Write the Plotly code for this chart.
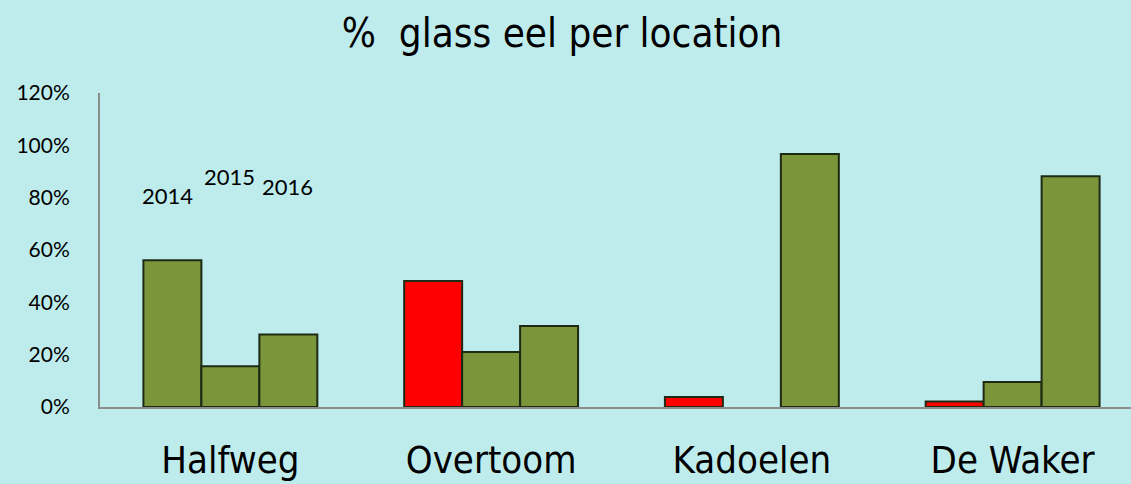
import plotly.graph_objects as go

locations = ["Halfweg", "Overtoom", "Kadoelen", "De Waker"]
pct_2014 = [56.1, 48.2, 3.8, 2.1]
pct_2015 = [15.6, 21.0, None, 9.6]
pct_2016 = [27.7, 31.0, 96.7, 88.2]
year_labels = ["2014", "2015", "2016"]
year_label_x = [-0.242, -0.004, 0.218]
year_label_y = [80.8, 88.1, 84.2]
y_ticks = [0, 20, 40, 60, 80, 100, 120]
y_ticktext = [f"{v}%" for v in y_ticks]

GREEN = "#7b953b"
RED = "#ff0000"
EDGE = "#1d2a14"
colors_2014 = [GREEN, RED, RED, RED]
COND = "DejaVu Sans Condensed, Liberation Sans Narrow, Arial Narrow, sans-serif"
BODY = "Lato, Open Sans, sans-serif"

fig = go.Figure()
for name, vals, cols in [("2014", pct_2014, colors_2014),
                         ("2015", pct_2015, GREEN),
                         ("2016", pct_2016, GREEN)]:
    fig.add_trace(go.Bar(
        x=list(range(len(locations))), y=vals, name=name,
        marker=dict(color=cols, line=dict(color=EDGE, width=2)),
        showlegend=False, hoverinfo="skip",
    ))

for txt, xx, yy in zip(year_labels, year_label_x, year_label_y):
    fig.add_annotation(x=xx, y=yy, text=txt, showarrow=False,
                       font=dict(family=BODY, size=22, color="black"))

BG = "rgb(190,236,237)"
fig.update_layout(
    width=1131, height=484,
    paper_bgcolor=BG, plot_bgcolor=BG,
    margin=dict(l=100, r=0, t=93, b=77),
    barmode="group", bargap=0.333, bargroupgap=0,
    title=dict(text="%  glass eel per location", x=0.497, xref="container",
               y=1 - 33 / 484, yref="container", yanchor="middle", xanchor="center",
               font=dict(family=COND, size=40, color="black")),
    xaxis=dict(
        tickmode="array", tickvals=list(range(len(locations))), ticktext=locations,
        range=[-0.5, 3.454], showline=True, linecolor="#8c8c8c", linewidth=2,
        showgrid=False, zeroline=False,
        ticks="outside", ticklen=18, tickcolor="rgba(0,0,0,0)",
        tickfont=dict(family=COND, size=38, color="black"),
    ),
    yaxis=dict(
        range=[0, 120], tickmode="array", tickvals=y_ticks, ticktext=y_ticktext,
        showline=True, linecolor="#8c8c8c", linewidth=2,
        showgrid=False, zeroline=False,
        ticks="outside", ticklen=24, tickcolor="rgba(0,0,0,0)",
        tickfont=dict(family=BODY, size=21, color="black"),
    ),
)

fig.write_html("out.html", config={"displayModeBar": False},
               post_script="document.body.style.margin='0';document.body.style.padding='0';document.body.style.overflow='hidden';")
